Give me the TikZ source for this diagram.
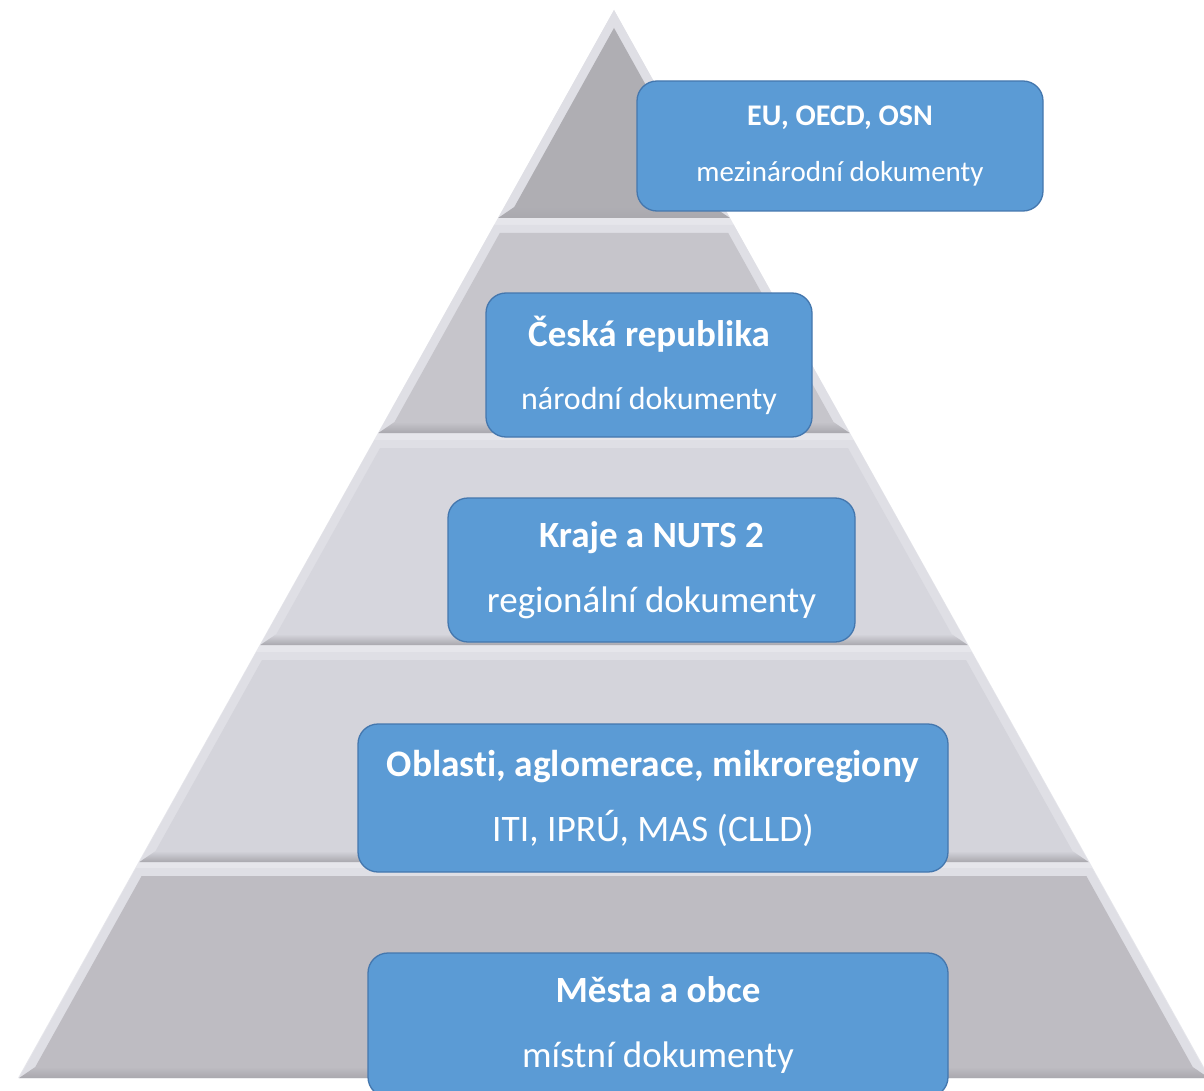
\documentclass[tikz,border=0pt]{standalone}
\usepackage{fontspec}
\setmainfont[Ligatures=NoCommon]{Carlito}
\usetikzlibrary{positioning}
\definecolor{boxblue}{HTML}{5B9BD5}
\definecolor{boxedge}{HTML}{4477AE}
\definecolor{gapgray}{HTML}{E6E6EB}
\definecolor{bevlight}{HTML}{DFDFE5}
\definecolor{bevdark}{HTML}{A9A8AE}
\definecolor{tierA}{HTML}{AFAEB3}
\definecolor{tierB}{HTML}{C6C5CB}
\definecolor{tierC}{HTML}{D6D6DD}
\definecolor{tierD}{HTML}{D4D4DB}
\definecolor{tierE}{HTML}{BEBCC2}

\begin{document}
\begin{tikzpicture}[x=1pt,y=-1pt,lvlbox/.style={draw=boxedge,fill=boxblue,line width=1.3pt,rounded corners=20pt,text=white,align=center,inner sep=0pt,font=\fontsize{37}{44}\selectfont}]
\useasboundingbox (0,0) rectangle (1204,1091);
% pyramid tiers
\fill[gapgray] (614,10) -- (1210,1078) -- (18,1078) -- cycle;
\foreach \yt/\yb/\fc in {10/218/tierA,225/433/tierB,440/645/tierC,652/862/tierD,868/1078/tierE}{
  \pgfmathsetmacro\xtl{614-0.557*(\yt-10)}
  \pgfmathsetmacro\xtr{614+0.557*(\yt-10)}
  \pgfmathsetmacro\xbl{614-0.557*(\yb-10)}
  \pgfmathsetmacro\xbr{614+0.557*(\yb-10)}
  \pgfmathsetmacro\yti{max(\yt+8,28)}
  \pgfmathsetmacro\ybi{\yb-11}
  \pgfmathsetmacro\xtli{614-0.557*(\yti-10)+10}
  \pgfmathsetmacro\xtri{614+0.557*(\yti-10)-10}
  \pgfmathsetmacro\xbli{614-0.557*(\ybi-10)+10}
  \pgfmathsetmacro\xbri{614+0.557*(\ybi-10)-10}
  \fill[bevlight] (\xtl,\yt) -- (\xtr,\yt) -- (\xbr,\yb) -- (\xbl,\yb) -- cycle;
  \shade[top color=\fc,bottom color=bevdark] (\xbl,\yb) -- (\xbr,\yb) -- (\xbri,\ybi) -- (\xbli,\ybi) -- cycle;
  \fill[\fc] (\xtli,\yti) -- (\xtri,\yti) -- (\xbri,\ybi) -- (\xbli,\ybi) -- cycle;
}
% level boxes
\node[lvlbox,minimum width=406pt,minimum height=130pt,font=\fontsize{30}{36}\selectfont] (intl) at (840,146)
  {\textbf{EU, OECD, OSN}\\[20pt]\fontsize{29}{35}\selectfont mezinárodní dokumenty};
\node[lvlbox,minimum width=326pt,minimum height=144pt] (natl) at (649,365)
  {\textbf{Česká republika}\\[19pt]\fontsize{32}{38}\selectfont národní dokumenty};
\node[lvlbox,minimum width=407pt,minimum height=144pt] (regn) at (651.5,570)
  {\textbf{Kraje a NUTS 2}\\[21pt]regionální dokumenty};
\node[lvlbox,minimum width=590pt,minimum height=148pt,font=\fontsize{37.4}{44}\selectfont] (area) at (653,798)
  {\textbf{Oblasti, aglomerace, mikroregiony}\\[21pt]ITI, IPRÚ, MAS (CLLD)};
\node[lvlbox,minimum width=580pt,minimum height=144pt] (locl) at (658,1025)
  {\textbf{Města a obce}\\[21pt]místní dokumenty};
\end{tikzpicture}
\end{document}
